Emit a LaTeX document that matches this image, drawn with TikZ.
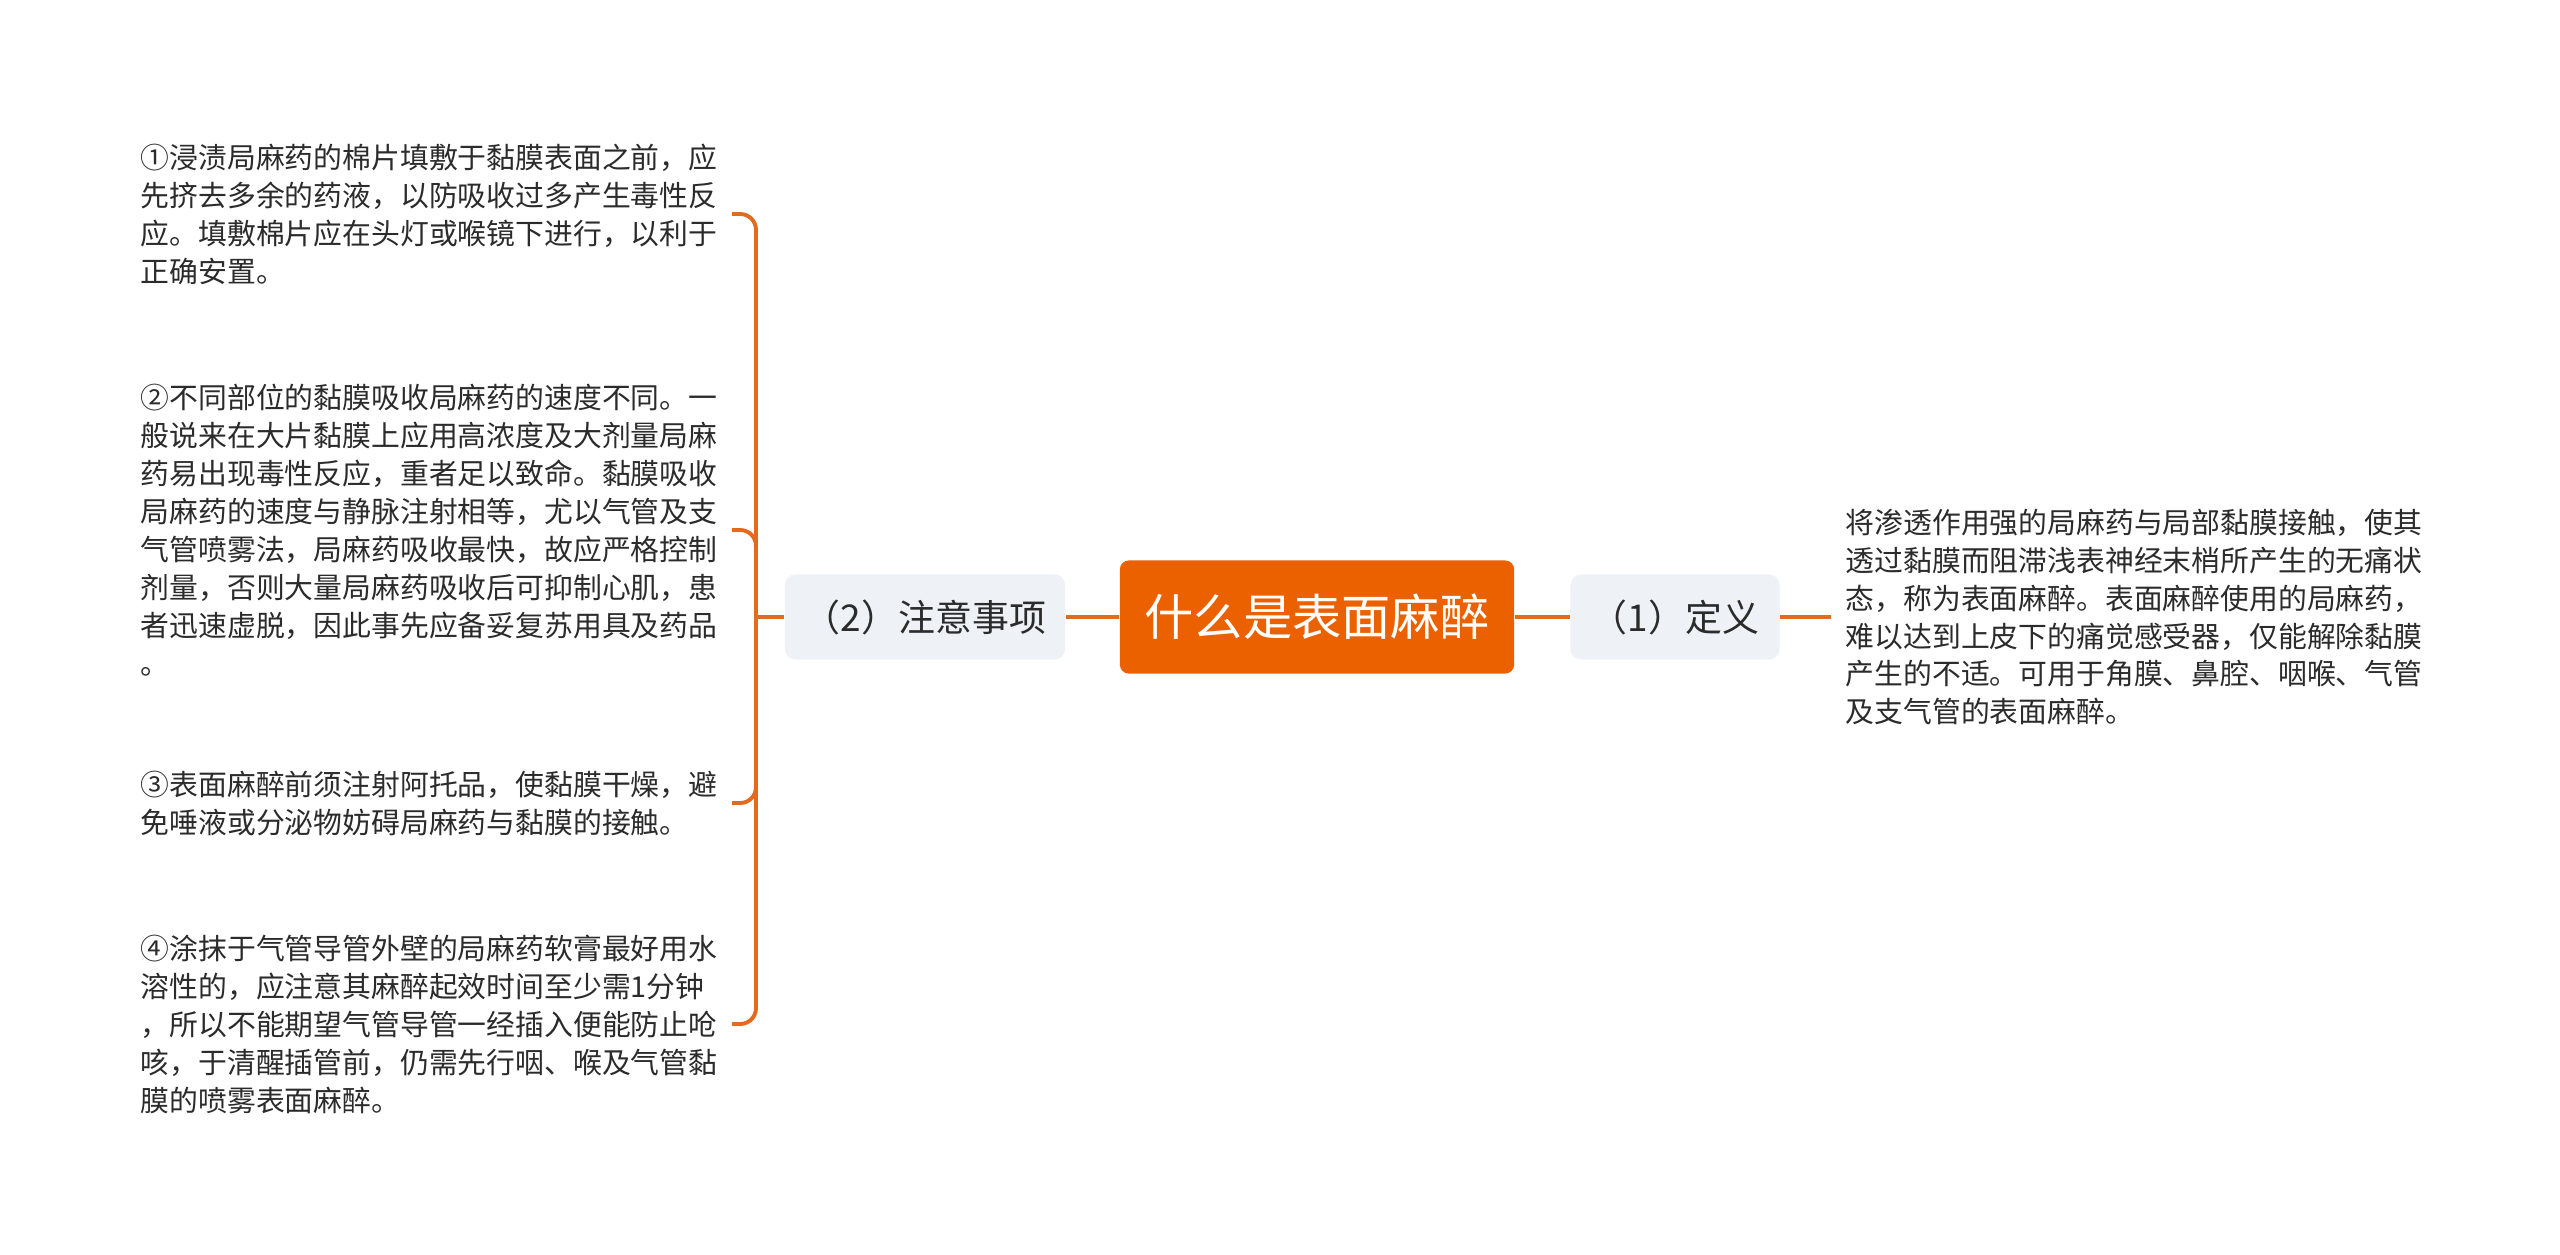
\documentclass[tikz,border=0pt]{standalone}
\usepackage{fontspec}
\setmainfont{Noto Sans CJK SC}
\definecolor{rootorange}{HTML}{EB6100}
\definecolor{linkorange}{HTML}{E46A1E}
\definecolor{topicgrey}{HTML}{EEF2F6}
\definecolor{inkgrey}{HTML}{2B2B2B}

\tikzset{
  rootbox/.style={fill=rootorange, text=white, rounded corners=2.5pt, minimum width=3.94cm, minimum height=1.13cm, font=\fontsize{14pt}{16pt}\selectfont},
  topicbox/.style={fill=topicgrey, text=inkgrey, rounded corners=3pt, minimum height=0.85cm, font=\fontsize{10.5pt}{12pt}\selectfont},
  notetext/.style={text=inkgrey, align=left, inner sep=0.14cm, font=\fontsize{8.2pt}{10.8pt}\selectfont},
  link/.style={draw=linkorange, line width=1.1pt}
}

\begin{document}
\begin{tikzpicture}[x=0.01cm, y=-0.01cm]
  \useasboundingbox[fill=white] (0,0) rectangle (2560,1254);

  % centre and the two topics
  \node[rootbox] (root) at (1317,617) {什么是表面麻醉};
  \node[topicbox, minimum width=2.8cm] (notes) at (925,617) {（2）注意事项};
  \node[topicbox, minimum width=2.09cm] (defn) at (1675,617) {（1）定义};

  % definition text
  \node[notetext, anchor=west] (deftext) at (1831,617) {将渗透作用强的局麻药与局部黏膜接触，使其\\透过黏膜而阻滞浅表神经末梢所产生的无痛状\\态，称为表面麻醉。表面麻醉使用的局麻药，\\难以达到上皮下的痛觉感受器，仅能解除黏膜\\产生的不适。可用于角膜、鼻腔、咽喉、气管\\及支气管的表面麻醉。};

  % notes
  \node[notetext, anchor=west] (noteA) at (126,214) {①浸渍局麻药的棉片填敷于黏膜表面之前，应\\先挤去多余的药液，以防吸收过多产生毒性反\\应。填敷棉片应在头灯或喉镜下进行，以利于\\正确安置。};
  \node[notetext, anchor=west] (noteB) at (126,530) {②不同部位的黏膜吸收局麻药的速度不同。一\\般说来在大片黏膜上应用高浓度及大剂量局麻\\药易出现毒性反应，重者足以致命。黏膜吸收\\局麻药的速度与静脉注射相等，尤以气管及支\\气管喷雾法，局麻药吸收最快，故应严格控制\\剂量，否则大量局麻药吸收后可抑制心肌，患\\者迅速虚脱，因此事先应备妥复苏用具及药品\\。};
  \node[notetext, anchor=west] (noteC) at (126,803) {③表面麻醉前须注射阿托品，使黏膜干燥，避\\免唾液或分泌物妨碍局麻药与黏膜的接触。};
  \node[notetext, anchor=west] (noteD) at (126,1024) {④涂抹于气管导管外壁的局麻药软膏最好用水\\溶性的，应注意其麻醉起效时间至少需1分钟\\，所以不能期望气管导管一经插入便能防止呛\\咳，于清醒插管前，仍需先行咽、喉及气管黏\\膜的喷雾表面麻醉。};

  % connectors
  \draw[link] (root.west) -- (notes.east);
  \draw[link] (root.east) -- (defn.west);
  \draw[link] (defn.east) -- (deftext.west);

  \coordinate (hub) at (756,617);
  \draw[link] (notes.west) -- (hub);
  \draw[link, rounded corners=4.5pt] (hub) |- (noteA.east);
  \draw[link, rounded corners=4.5pt] (hub) |- (noteB.east);
  \draw[link, rounded corners=4.5pt] (hub) |- (noteC.east);
  \draw[link, rounded corners=4.5pt] (hub) |- (noteD.east);
\end{tikzpicture}
\end{document}
